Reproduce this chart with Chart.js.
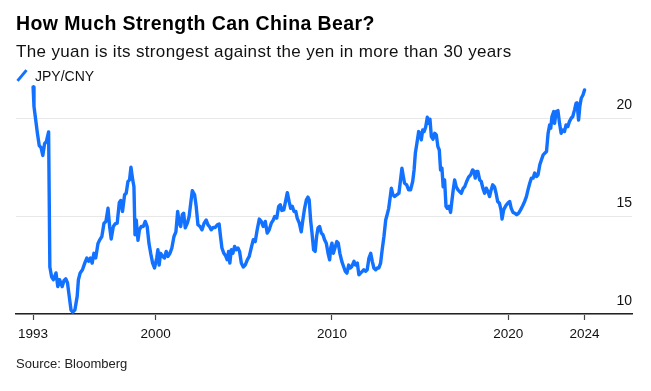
<!DOCTYPE html>
<html>
<head>
<meta charset="utf-8">
<script src="https://cdn.jsdelivr.net/npm/chart.js@4.4.1/dist/chart.umd.min.js"></script>
<style>
  body { margin: 0; background: #fff; }
  #wrap { position: relative; width: 651px; height: 391px; font-family: "Liberation Sans", Arial, sans-serif; color: #000; }
  #wrap canvas { position: absolute; left: 0; top: 0; }
  .txt { position: absolute; left: 16px; line-height: 1; white-space: nowrap; }
  #title { top: 14px; font-size: 19.5px; font-weight: bold; letter-spacing: 0.4px; }
  #subtitle { top: 43px; font-size: 17px; letter-spacing: 0.35px; color: #111; }
  #legend { top: 69px; left: 35px; font-size: 14px; color: #111; }
  #legend-icon { position: absolute; left: 15px; top: 74px; width: 14px; height: 3px; background: #1272ff; transform: rotate(-50deg); }
  #source { top: 357px; font-size: 13px; color: #222; }
</style>
</head>
<body>
<div id="wrap">
  <canvas id="chart" width="651" height="391"></canvas>
  <div class="txt" id="title">How Much Strength Can China Bear?</div>
  <div class="txt" id="subtitle">The yuan is its strongest against the yen in more than 30 years</div>
  <div id="legend-icon"></div>
  <div class="txt" id="legend">JPY/CNY</div>
  <div class="txt" id="source">Source: Bloomberg</div>
</div>
<script>
// JPY/CNY (date as decimal year)
const years = [
  1993.05, 1993.10, 1993.20, 1993.30, 1993.40, 1993.50, 1993.60, 1993.70, 1993.80, 1993.93,
  1994.00, 1994.10, 1994.20, 1994.35, 1994.45, 1994.55, 1994.62, 1994.70, 1994.80, 1994.90,
  1995.00, 1995.10, 1995.20, 1995.30, 1995.42, 1995.55, 1995.62, 1995.72, 1995.85, 1995.98,
  1996.10, 1996.20, 1996.30, 1996.40, 1996.50, 1996.60, 1996.73, 1996.84, 1996.95, 1997.07,
  1997.18, 1997.30, 1997.39, 1997.48, 1997.60, 1997.70, 1997.82, 1997.94, 1998.02, 1998.12,
  1998.24, 1998.33, 1998.43, 1998.52, 1998.60, 1998.70, 1998.77, 1998.83, 1998.90, 1999.00,
  1999.08, 1999.18, 1999.30, 1999.41, 1999.52, 1999.62, 1999.72, 1999.83, 1999.94, 2000.06,
  2000.13, 2000.20, 2000.28, 2000.40, 2000.50, 2000.60, 2000.70, 2000.81, 2000.92, 2001.04,
  2001.15, 2001.25, 2001.34, 2001.42, 2001.51, 2001.59, 2001.68, 2001.80, 2001.90, 2001.99,
  2002.08, 2002.21, 2002.30, 2002.40, 2002.52, 2002.63, 2002.75, 2002.87, 2002.97, 2003.07,
  2003.15, 2003.27, 2003.38, 2003.50, 2003.60, 2003.68, 2003.76, 2003.87, 2003.97, 2004.06,
  2004.14, 2004.21, 2004.29, 2004.38, 2004.48, 2004.57, 2004.67, 2004.76, 2004.86, 2004.97,
  2005.08, 2005.20, 2005.31, 2005.42, 2005.54, 2005.65, 2005.76, 2005.88, 2005.99, 2006.10,
  2006.22, 2006.33, 2006.44, 2006.56, 2006.67, 2006.75, 2006.87, 2006.98, 2007.07, 2007.16,
  2007.27, 2007.37, 2007.47, 2007.57, 2007.66, 2007.75, 2007.85, 2007.95, 2008.03, 2008.15,
  2008.26, 2008.35, 2008.45, 2008.55, 2008.64, 2008.71, 2008.79, 2008.87, 2008.96, 2009.05,
  2009.13, 2009.21, 2009.30, 2009.40, 2009.49, 2009.58, 2009.68, 2009.78, 2009.87, 2009.93,
  2010.00, 2010.08, 2010.17, 2010.28, 2010.36, 2010.45, 2010.56, 2010.66, 2010.76, 2010.85,
  2010.95, 2011.04, 2011.13, 2011.25, 2011.34, 2011.44, 2011.53, 2011.62, 2011.72, 2011.81,
  2011.91, 2012.00, 2012.10, 2012.20, 2012.29, 2012.38, 2012.48, 2012.57, 2012.66, 2012.76,
  2012.85, 2012.95, 2013.05, 2013.13, 2013.22, 2013.31, 2013.37, 2013.46, 2013.56, 2013.68,
  2013.80, 2013.88, 2013.97, 2014.05, 2014.12, 2014.24, 2014.35, 2014.46, 2014.58, 2014.66,
  2014.73, 2014.82, 2014.92, 2014.99, 2015.07, 2015.15, 2015.23, 2015.32, 2015.41, 2015.49,
  2015.56, 2015.64, 2015.73, 2015.83, 2015.92, 2016.01, 2016.09, 2016.16, 2016.24, 2016.31,
  2016.39, 2016.47, 2016.54, 2016.64, 2016.73, 2016.80, 2016.88, 2016.96, 2017.05, 2017.15,
  2017.24, 2017.34, 2017.45, 2017.53, 2017.64, 2017.75, 2017.87, 2017.98, 2018.06, 2018.13,
  2018.21, 2018.28, 2018.38, 2018.47, 2018.57, 2018.66, 2018.75, 2018.85, 2018.94, 2019.03,
  2019.12, 2019.22, 2019.31, 2019.40, 2019.50, 2019.59, 2019.65, 2019.74, 2019.86, 2019.97,
  2020.08, 2020.17, 2020.27, 2020.37, 2020.48, 2020.59, 2020.70, 2020.82, 2020.93, 2021.03,
  2021.12, 2021.22, 2021.31, 2021.41, 2021.50, 2021.60, 2021.69, 2021.79, 2021.88, 2021.98,
  2022.07, 2022.17, 2022.26, 2022.35, 2022.41, 2022.48, 2022.58, 2022.63, 2022.72, 2022.82,
  2022.91, 2023.00, 2023.09, 2023.19, 2023.28, 2023.38, 2023.47, 2023.57, 2023.66, 2023.76,
  2023.85, 2023.90, 2023.99, 2024.06, 2024.14, 2024.24, 2024.33
];
const jpyCny = [
  21.6, 20.6, 19.9, 19.2, 18.6, 18.5, 18.1, 18.7, 18.8, 19.3,
  12.4, 11.9, 11.75, 12.1, 11.4, 11.75, 11.6, 11.4, 11.7, 11.8,
  11.6, 10.9, 10.2, 10.1, 10.2, 10.9, 11.75, 12.1, 12.26, 12.6,
  12.86, 12.7, 12.86, 12.6, 13.1, 12.86, 13.6, 13.8, 13.96, 14.64,
  14.73, 15.4, 14.47, 13.83, 14.47, 14.6, 14.64, 15.7, 15.8, 15.24,
  16.09, 16.17, 16.77, 16.85, 17.5, 16.85, 16.5, 14.05, 14.8, 13.76,
  14.3, 14.47, 14.47, 14.73, 14.47, 13.62, 13.1, 12.6, 12.35, 12.86,
  13.28, 12.5, 13.1, 12.94, 12.86, 13.2, 12.94, 13.1, 13.37, 13.96,
  14.2, 15.24, 14.64, 14.47, 15.07, 15.15, 14.4, 14.64, 14.98, 15.66,
  16.3, 16.09, 15.5, 14.56, 14.47, 14.3, 14.64, 14.8, 14.55, 14.45,
  14.3, 14.42, 14.42, 14.56, 14.6, 13.96, 13.37, 13.1, 12.97, 12.77,
  13.2, 12.6, 13.28, 13.1, 13.45, 13.28, 13.37, 13.2, 12.6, 12.4,
  12.5, 12.77, 12.94, 13.37, 13.8, 13.7, 14.3, 14.85, 14.73, 14.47,
  14.73, 14.13, 14.3, 14.64, 14.8, 14.98, 14.9, 15.5, 15.58, 15.29,
  15.32, 15.75, 16.2, 15.75, 15.4, 15.5, 15.24, 15.24, 14.9, 14.64,
  14.2, 14.8, 15.4, 15.83, 15.97, 15.83, 14.8, 14.13, 13.28, 13.2,
  13.96, 14.39, 14.47, 14.13, 14.05, 13.8, 13.62, 13.1, 12.77, 13.37,
  13.62, 13.1, 13.37, 13.7, 13.62, 13.1, 12.69, 12.43, 12.18, 12.09,
  12.5, 12.35, 12.43, 12.69, 12.5, 12.6, 12.0, 12.09, 12.18, 12.26,
  12.18, 12.26, 12.86, 13.1, 12.69, 12.35, 12.26, 12.35, 12.35, 12.6,
  13.28, 13.96, 14.8, 15.07, 15.4, 16.0, 16.43, 16.09, 16.0, 16.09,
  16.17, 16.77, 17.45, 17.02, 16.68, 16.6, 16.34, 16.34, 16.77, 17.36,
  18.21, 18.72, 19.32, 19.23, 18.9, 19.4, 19.32, 19.57, 20.05, 19.74,
  19.95, 19.06, 18.93, 19.23, 19.15, 18.55, 18.38, 17.36, 17.45, 16.5,
  16.85, 15.5, 15.4, 15.5, 15.19, 15.75, 16.34, 16.85, 16.5, 16.34,
  16.26, 16.17, 16.43, 16.5, 16.77, 16.99, 17.11, 17.36, 17.28, 16.94,
  17.28, 17.28, 16.85, 16.77, 16.4, 16.17, 16.43, 16.26, 16.0, 16.34,
  16.6, 16.5, 16.17, 15.75, 15.66, 15.32, 14.85, 15.32, 15.53, 15.66,
  15.75, 15.4, 15.19, 15.15, 15.07, 15.15, 15.32, 15.53, 15.75, 16.0,
  16.34, 16.68, 16.94, 16.94, 17.2, 17.02, 17.11, 17.62, 17.87, 18.13,
  18.21, 18.3, 19.23, 19.66, 19.49, 20.09, 20.34, 19.74, 20.34, 20.39,
  19.74, 19.23, 19.4, 19.32, 19.66, 19.57, 19.83, 20.0, 20.09, 20.43,
  20.77, 20.8, 19.91, 20.6, 21.02, 21.19, 21.45
];

const xTickValues = [1993.05, 2000, 2010, 2020, 2024.33];
const xTickLabels = ['1993', '2000', '2010', '2020', '2024'];
const yTickValues = [10, 15, 20];

const lineBlue = '#1272ff';
const fontFamily = '"Liberation Sans", Arial, sans-serif';

let ctx = document.getElementById('chart');
let chart = new Chart(ctx, {
    type: 'line',
    data: {
        datasets: [
            {
                label: 'JPY/CNY',
                data: years.map((x, i) => ({ x: x, y: jpyCny[i] })),
                borderColor: lineBlue,
                borderWidth: 3.4,
                pointRadius: 0,
                tension: 0,
                clip: false,
                borderJoinStyle: 'round',
                borderCapStyle: 'round',
            },
        ],
    },
    options: {
        responsive: false,
        animation: false,
        devicePixelRatio: 1,
        layout: { padding: { left: 16, right: 19, top: 84, bottom: 0 } },
        plugins: {
            legend: { display: false },
            tooltip: { enabled: false },
        },
        scales: {
            x: {
                type: 'linear',
                min: 1992.08,
                max: 2027.02,
                afterBuildTicks: (s) => { s.ticks = xTickValues.map((v) => ({ value: v })); },
                afterFit: (s) => { s.height = 77; },
                grid: { drawOnChartArea: false, drawTicks: true, tickLength: 6, tickColor: '#444', tickWidth: 1.2 },
                border: { display: true, color: '#222', width: 1.5 },
                ticks: {
                    color: '#111',
                    font: { family: fontFamily, size: 13.5 },
                    padding: 6,
                    maxRotation: 0,
                    autoSkip: false,
                    callback: (v, i) => xTickLabels[i],
                },
            },
            y: {
                position: 'right',
                min: 10,
                max: 21.75,
                afterBuildTicks: (s) => { s.ticks = yTickValues.map((v) => ({ value: v })); },
                afterFit: (s) => { s.width = 0; },
                grid: { color: '#e8e8e8', lineWidth: 1, drawTicks: false },
                border: { display: false },
                ticks: {
                    mirror: true,
                    padding: 0,
                    labelOffset: -13,
                    color: '#111',
                    font: { family: fontFamily, size: 14 },
                },
            },
        },
    },
});
</script>
</body>
</html>
